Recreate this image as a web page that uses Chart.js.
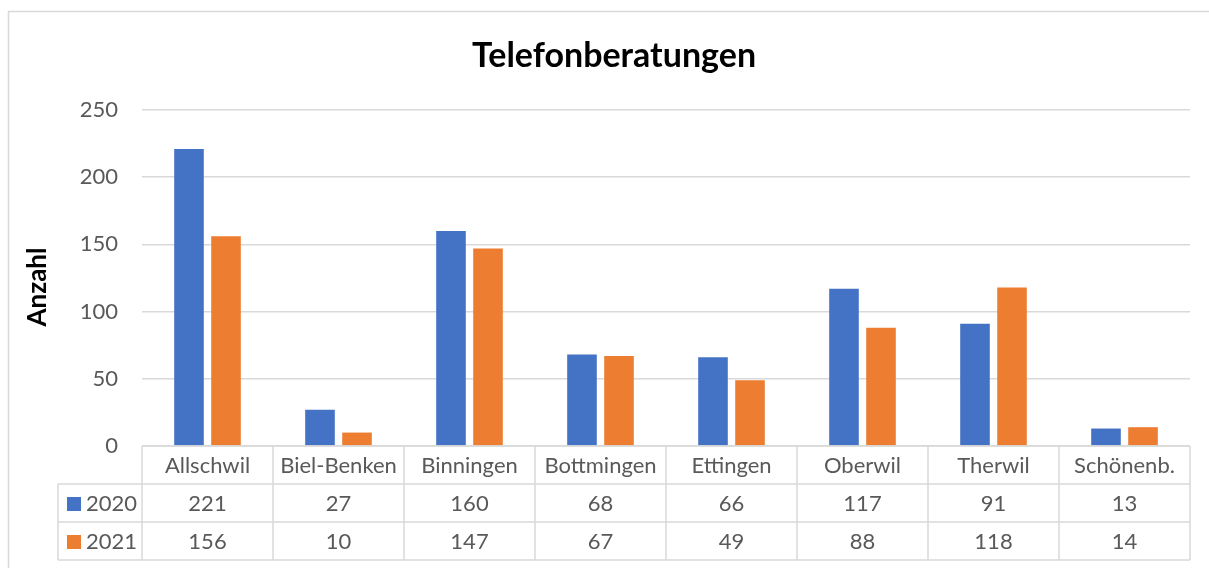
<!DOCTYPE html>
<html>
<head>
<meta charset="utf-8">
<script src="https://cdn.jsdelivr.net/npm/chart.js@4.4.1/dist/chart.umd.min.js"></script>
<style>
  html, body { margin: 0; padding: 0; background: #fff; }
  #wrap { width: 1209px; height: 568px; }
</style>
</head>
<body>
<div id="wrap"><canvas id="c" width="1209" height="568"></canvas></div>
<script>
const categories = ['Allschwil', 'Biel-Benken', 'Binningen', 'Bottmingen', 'Ettingen', 'Oberwil', 'Therwil', 'Schönenb.'];
const values2020 = [221, 27, 160, 68, 66, 117, 91, 13];
const values2021 = [156, 10, 147, 67, 49, 88, 118, 14];
const seriesNames = ['2020', '2021'];
const yTicks = [0, 50, 100, 150, 200, 250];

const BLUE = '#4472c4';
const ORANGE = '#ed7d31';
const GRID = '#d9d9d9';
const TXT = '#595959';
const FONT = 'Lato, "Noto Sans", sans-serif';

// title, axis title, border and data table below the plot
const decorations = {
  id: 'decorations',
  afterDraw(chart) {
    const { ctx, chartArea, scales } = chart;
    const x = scales.x;
    ctx.save();

    // outer frame
    ctx.strokeStyle = GRID;
    ctx.lineWidth = 1.5;
    ctx.strokeRect(8.5, 11.5, 1220, 600);

    // title
    ctx.fillStyle = '#000';
    ctx.font = 'bold 34px ' + FONT;
    ctx.textAlign = 'center';
    ctx.textBaseline = 'middle';
    ctx.fillText('Telefonberatungen', 614, 56);

    // y axis title
    ctx.save();
    ctx.translate(38, 287);
    ctx.rotate(-Math.PI / 2);
    ctx.font = 'bold 26px ' + FONT;
    ctx.fillText('Anzahl', 0, 0);
    ctx.restore();

    // data table
    const top = chartArea.bottom;
    const rowH = 38;
    const left = 58;
    const right = chartArea.right;
    const colW = (chartArea.right - chartArea.left) / categories.length;
    ctx.strokeStyle = GRID;
    ctx.lineWidth = 1.5;
    ctx.beginPath();
    ctx.moveTo(chartArea.left, top); ctx.lineTo(right, top);
    for (let r = 1; r <= 3; r++) {
      ctx.moveTo(left, top + r * rowH); ctx.lineTo(right, top + r * rowH);
    }
    ctx.moveTo(left, top + rowH); ctx.lineTo(left, top + 3 * rowH);
    for (let i = 0; i <= categories.length; i++) {
      const px = chartArea.left + i * colW;
      ctx.moveTo(px, top); ctx.lineTo(px, top + 3 * rowH);
    }
    ctx.stroke();

    ctx.font = '22px ' + FONT;
    ctx.fillStyle = TXT;
    ctx.textAlign = 'center';
    ctx.textBaseline = 'middle';
    const rows = [values2020, values2021];
    categories.forEach((c, i) => {
      const cx = x.getPixelForValue(i);
      ctx.fillText(c, cx, top + rowH / 2 + 1);
      rows.forEach((vals, r) => {
        ctx.fillText(String(vals[i]), cx, top + (r + 1) * rowH + rowH / 2 + 1);
      });
    });

    // legend keys in table
    const colors = [BLUE, ORANGE];
    seriesNames.forEach((name, r) => {
      const cy = top + (r + 1) * rowH + rowH / 2;
      ctx.fillStyle = colors[r];
      ctx.fillRect(67, cy - 6, 14, 14);
      ctx.fillStyle = TXT;
      ctx.textAlign = 'left';
      ctx.fillText(name, 86, cy + 1);
    });

    ctx.restore();
  }
};

new Chart(document.getElementById('c'), {
  type: 'bar',
  data: {
    labels: categories,
    datasets: [
      { label: seriesNames[0], data: values2020, backgroundColor: BLUE },
      { label: seriesNames[1], data: values2021, backgroundColor: ORANGE }
    ]
  },
  options: {
    responsive: false,
    animation: false,
    devicePixelRatio: 1,
    layout: { padding: { left: 0, right: 19, top: 110, bottom: 122 } },
    categoryPercentage: 0.565,
    barPercentage: 0.8,
    plugins: {
      legend: { display: false },
      title: { display: false },
      tooltip: { enabled: false }
    },
    scales: {
      x: {
        display: false,
        grid: { display: false }
      },
      y: {
        min: 0,
        max: 250,
        afterFit(scale) { scale.width = 142; },
        afterBuildTicks(scale) { scale.ticks = yTicks.map(v => ({ value: v })); },
        border: { display: false },
        grid: { color: GRID, lineWidth: 1.5, drawTicks: false },
        ticks: {
          color: TXT,
          padding: 24,
          font: { family: FONT, size: 22 }
        }
      }
    }
  },
  plugins: [decorations]
});
</script>
</body>
</html>
